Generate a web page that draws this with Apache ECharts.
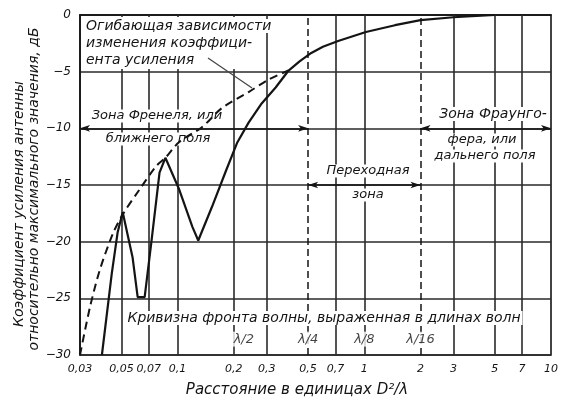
<!DOCTYPE html>
<html><head><meta charset="utf-8">
<script src="https://cdn.jsdelivr.net/npm/echarts@6/dist/echarts.min.js"></script>
<style>html,body{margin:0;padding:0;background:#fff}#c{width:561px;height:401px}</style>
</head><body><div id="c"></div>
<script>
// ---- data ----
const xTicks = [0.03, 0.05, 0.07, 0.1, 0.2, 0.3, 0.5, 0.7, 1, 2, 3, 5, 7, 10];
const xTickLabels = ['0,03', '0,05', '0,07', '0,1', '0,2', '0,3', '0,5', '0,7', '1', '2', '3', '5', '7', '10'];
const zoneBounds = [0.5, 2];
// antenna gain relative to maximum, dB (solid curve)
const gainX = [0.0393, 0.0444, 0.0477, 0.0508, 0.0574, 0.0611, 0.0666, 0.0725, 0.080, 0.086, 0.102, 0.120, 0.129, 0.153, 0.182, 0.208, 0.240, 0.282, 0.335, 0.393, 0.45, 0.52, 0.60, 0.724, 1.02, 1.46, 2.0, 3.0, 5.0];
const gainDb = [-30, -22.8, -19.2, -17.4, -21.4, -24.9, -24.9, -19.9, -13.9, -12.6, -15.4, -18.7, -19.9, -16.9, -13.7, -11.3, -9.5, -7.8, -6.4, -4.9, -4.1, -3.35, -2.8, -2.3, -1.5, -0.9, -0.45, -0.2, 0];
// envelope (dashed curve)
const envX = [0.030, 0.0339, 0.0383, 0.0450, 0.0508, 0.0625, 0.0771, 0.086, 0.102, 0.135, 0.173, 0.240, 0.307, 0.393];
const envDb = [-30, -25.8, -22.5, -19.3, -17.6, -15.4, -13.3, -12.6, -11.2, -9.9, -8.2, -6.8, -5.7, -4.9];
// wave-front curvature marks
const curvatureX = [0.2, 0.5, 1, 2];
const curvatureLabels = ['λ/2', 'λ/4', 'λ/8', 'λ/16'];

const INK = '#141414';
const FONT = '"DejaVu Sans", sans-serif';

function fmtX(v) {
  let best = 0;
  for (let i = 1; i < xTicks.length; i++) {
    if (Math.abs(Math.log(xTicks[i]) - Math.log(v)) < Math.abs(Math.log(xTicks[best]) - Math.log(v))) best = i;
  }
  return xTickLabels[best];
}

const vLines = xTicks.filter(v => v !== xTicks[0] && v !== xTicks[xTicks.length - 1]).map(v => ({
  xAxis: v,
  lineStyle: zoneBounds.includes(v) ? { type: [7, 4], width: 1.5, color: INK } : { type: 'solid', width: 1.6, color: '#2a2a2a' }
}));

const arrowLines = [
  [{ coord: [xTicks[0], -10] }, { coord: [zoneBounds[0], -10] }],
  [{ coord: [zoneBounds[0], -15] }, { coord: [zoneBounds[1], -15] }],
  [{ coord: [zoneBounds[1], -10] }, { coord: [xTicks[xTicks.length - 1], -10] }]
];

function txt(text, x, y, size, opts) {
  return Object.assign({
    type: 'text', z: 2, silent: true, x: x, y: y,
    style: Object.assign({
      text: text, fill: INK, fontStyle: 'italic', fontSize: size, fontFamily: FONT,
      align: 'center', verticalAlign: 'middle', backgroundColor: '#fff', padding: [0, 2]
    }, (opts && opts.style) || {})
  }, (opts && opts.el) || {});
}

const chart = echarts.init(document.getElementById('c'), null, { renderer: 'canvas' });
chart.setOption({
  animation: false,
  backgroundColor: '#fff',
  grid: { left: 80, right: 6, top: 15, bottom: 46, show: true, borderColor: INK, borderWidth: 1.6, backgroundColor: '#fff' },
  xAxis: {
    type: 'log', logBase: 10, min: xTicks[0], max: xTicks[xTicks.length - 1],
    axisLine: { show: true, lineStyle: { color: INK, width: 1.6 } },
    axisTick: { show: false, customValues: xTicks },
    splitLine: { show: false },
    axisLabel: {
      customValues: xTicks, formatter: fmtX, hideOverlap: false,
      color: INK, fontSize: 11, fontStyle: 'italic', fontFamily: FONT, margin: 9
    }
  },
  yAxis: {
    type: 'value', min: -30, max: 0, interval: 5,
    axisLine: { show: true, lineStyle: { color: INK, width: 1.6 } },
    axisTick: { show: false },
    splitLine: { show: true, lineStyle: { color: '#2a2a2a', width: 1.6 } },
    axisLabel: {
      formatter: v => (v === 0 ? '0' : '−' + Math.abs(v)),
      color: INK, fontSize: 12, fontStyle: 'italic', fontFamily: FONT, margin: 9
    }
  },
  series: [
    {
      type: 'line', data: [], silent: true, z: 1,
      markLine: {
        silent: true, z: 1, symbol: ['none', 'none'], label: { show: false },
        emphasis: { disabled: true }, animation: false,
        data: vLines
      }
    },
    {
      type: 'line', data: [], silent: true, z: 1,
      markLine: {
        silent: true, z: 1, symbol: ['arrow', 'arrow'], symbolSize: [5, 10], label: { show: false },
        emphasis: { disabled: true }, animation: false,
        lineStyle: { type: 'solid', width: 1.6, color: INK },
        data: arrowLines
      }
    },
    {
      name: 'envelope', type: 'line', z: 3, silent: true, smooth: 0.3, showSymbol: false,
      lineStyle: { color: INK, width: 2, type: [8, 5] },
      data: envX.map((x, i) => [x, envDb[i]])
    },
    {
      name: 'gain', type: 'line', z: 3, silent: true, smooth: false, showSymbol: false,
      lineStyle: { color: INK, width: 2.2 },
      data: gainX.map((x, i) => [x, gainDb[i]])
    },
    {
      type: 'scatter', z: 2, silent: true, symbolSize: 0,
      data: curvatureX.map((x, i) => ({ value: [x, -28.6], label: { formatter: curvatureLabels[i], offset: [i === 0 ? 10 : 0, 0] } })),
      label: { show: true, position: 'inside', color: INK, fontSize: 13, fontStyle: 'italic', fontFamily: FONT, backgroundColor: '#fff', padding: [1, 2] }
    }
  ],
  graphic: [
    { type: 'rect', z: 1.5, silent: true, shape: { x: 82, y: 17, width: 184, height: 52 }, style: { fill: '#fff' } },
    txt('Огибающая зависимости', 84, 26, 14, { style: { align: 'left' } }),
    txt('изменения коэффици-', 84, 43, 14, { style: { align: 'left' } }),
    txt('ента усиления', 84, 60, 14, { style: { align: 'left' } }),
    { type: 'line', z: 2, silent: true, shape: { x1: 208, y1: 58, x2: 252, y2: 88 }, style: { stroke: '#444', lineWidth: 1.2 } },
    txt('Зона Френеля, или', 157, 116, 13),
    txt('ближнего поля', 158, 139, 13),
    txt('Переходная', 368, 171, 13),
    txt('зона', 368, 195, 13),
    txt('Зона Фраунго-', 493, 114, 14),
    txt('фера, или', 482, 140, 13),
    txt('дальнего поля', 485, 156, 13),
    txt('Кривизна фронта волны, выраженная в длинах волн', 324, 318, 14),
    txt('Расстояние в единицах D²/λ', 297, 390, 15, { style: { backgroundColor: 'transparent' } }),
    txt('Коэффициент усиления антенны', 19, 204, 14, { el: { rotation: Math.PI / 2 }, style: { backgroundColor: 'transparent' } }),
    txt('относительно максимального значения, дБ', 34, 189, 14, { el: { rotation: Math.PI / 2 }, style: { backgroundColor: 'transparent' } })
  ]
});
</script>
</body></html>
